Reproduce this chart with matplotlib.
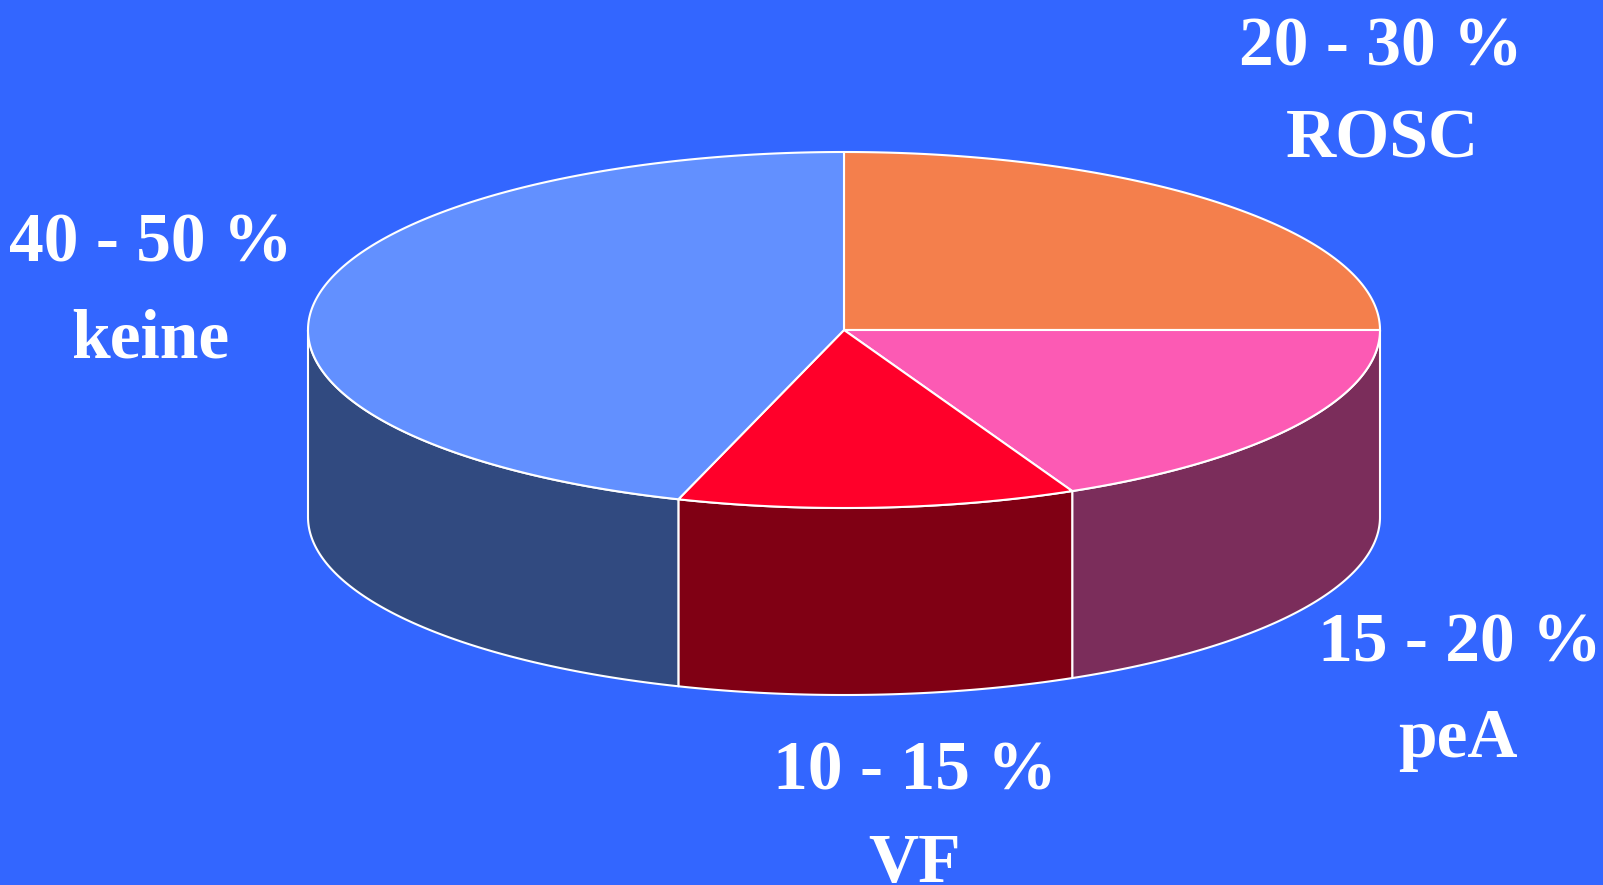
import numpy as np
import matplotlib.pyplot as plt
from matplotlib.patches import Polygon

# slice data (percent shares, clockwise from 12 o'clock)
labels = ['ROSC', 'peA', 'VF', 'keine']
ranges = ['20 - 30 %', '15 - 20 %', '10 - 15 %', '40 - 50 %']
values = [25, 18, 12, 45]
top_colors = ['#F47F4C', '#FC5AB4', '#FF002A', '#6290FF']
side_colors = ['#8A4528', '#7B2D5B', '#800014', '#314A80']

bg = '#3366FF'
cx, cy = 844, 330
rx, ry = 536, 178
depth = 187

fig = plt.figure(figsize=(16.03, 8.85), dpi=100)
fig.patch.set_facecolor(bg)
ax = fig.add_axes([0, 0, 1, 1])
ax.set_xlim(0, 1603)
ax.set_ylim(885, 0)
ax.axis('off')


def edge(t, dz=0):
    return np.column_stack([cx + rx * np.cos(t), cy - ry * np.sin(t) + dz])


fracs = np.array(values) / sum(values)
bounds = np.deg2rad(90 - 360 * np.concatenate([[0], np.cumsum(fracs)]))

# front side walls
for i in range(len(values)):
    a1, a2 = bounds[i], bounds[i + 1]  # a1 > a2 (clockwise)
    # clip to front half: angles in [-pi, 0] (mod 2pi)
    lo, hi = a2, a1
    seg_lo = max(lo, -np.pi)
    seg_hi = min(hi, 0)
    if seg_hi <= seg_lo:
        continue
    t = np.linspace(seg_hi, seg_lo, 200)
    top = edge(t)
    bot = edge(t[::-1], depth)
    poly = Polygon(np.vstack([top, bot]), closed=True, facecolor=side_colors[i],
                   edgecolor='white', lw=1.5, joinstyle='round')
    ax.add_patch(poly)

# top face wedges
for i in range(len(values)):
    t = np.linspace(bounds[i], bounds[i + 1], 300)
    pts = np.vstack([[cx, cy], edge(t)])
    ax.add_patch(Polygon(pts, closed=True, facecolor=top_colors[i],
                         edgecolor='white', lw=1.5, joinstyle='round'))

# labels
font = dict(family='Liberation Serif', weight='bold', color='white',
            fontsize=50, ha='center', va='baseline')
label_pos = {
    'ROSC': ((1381, 65), (1382, 157)),
    'peA': ((1460, 662), (1458, 757)),
    'VF': ((915, 790), (915, 882)),
    'keine': ((151, 262), (150, 357)),
}
for lab, rng in zip(labels, ranges):
    (x1, y1), (x2, y2) = label_pos[lab]
    ax.text(x1, y1, rng, **font)
    ax.text(x2, y2, lab, **font)

fig.savefig('out.png', dpi=100, facecolor=bg)
